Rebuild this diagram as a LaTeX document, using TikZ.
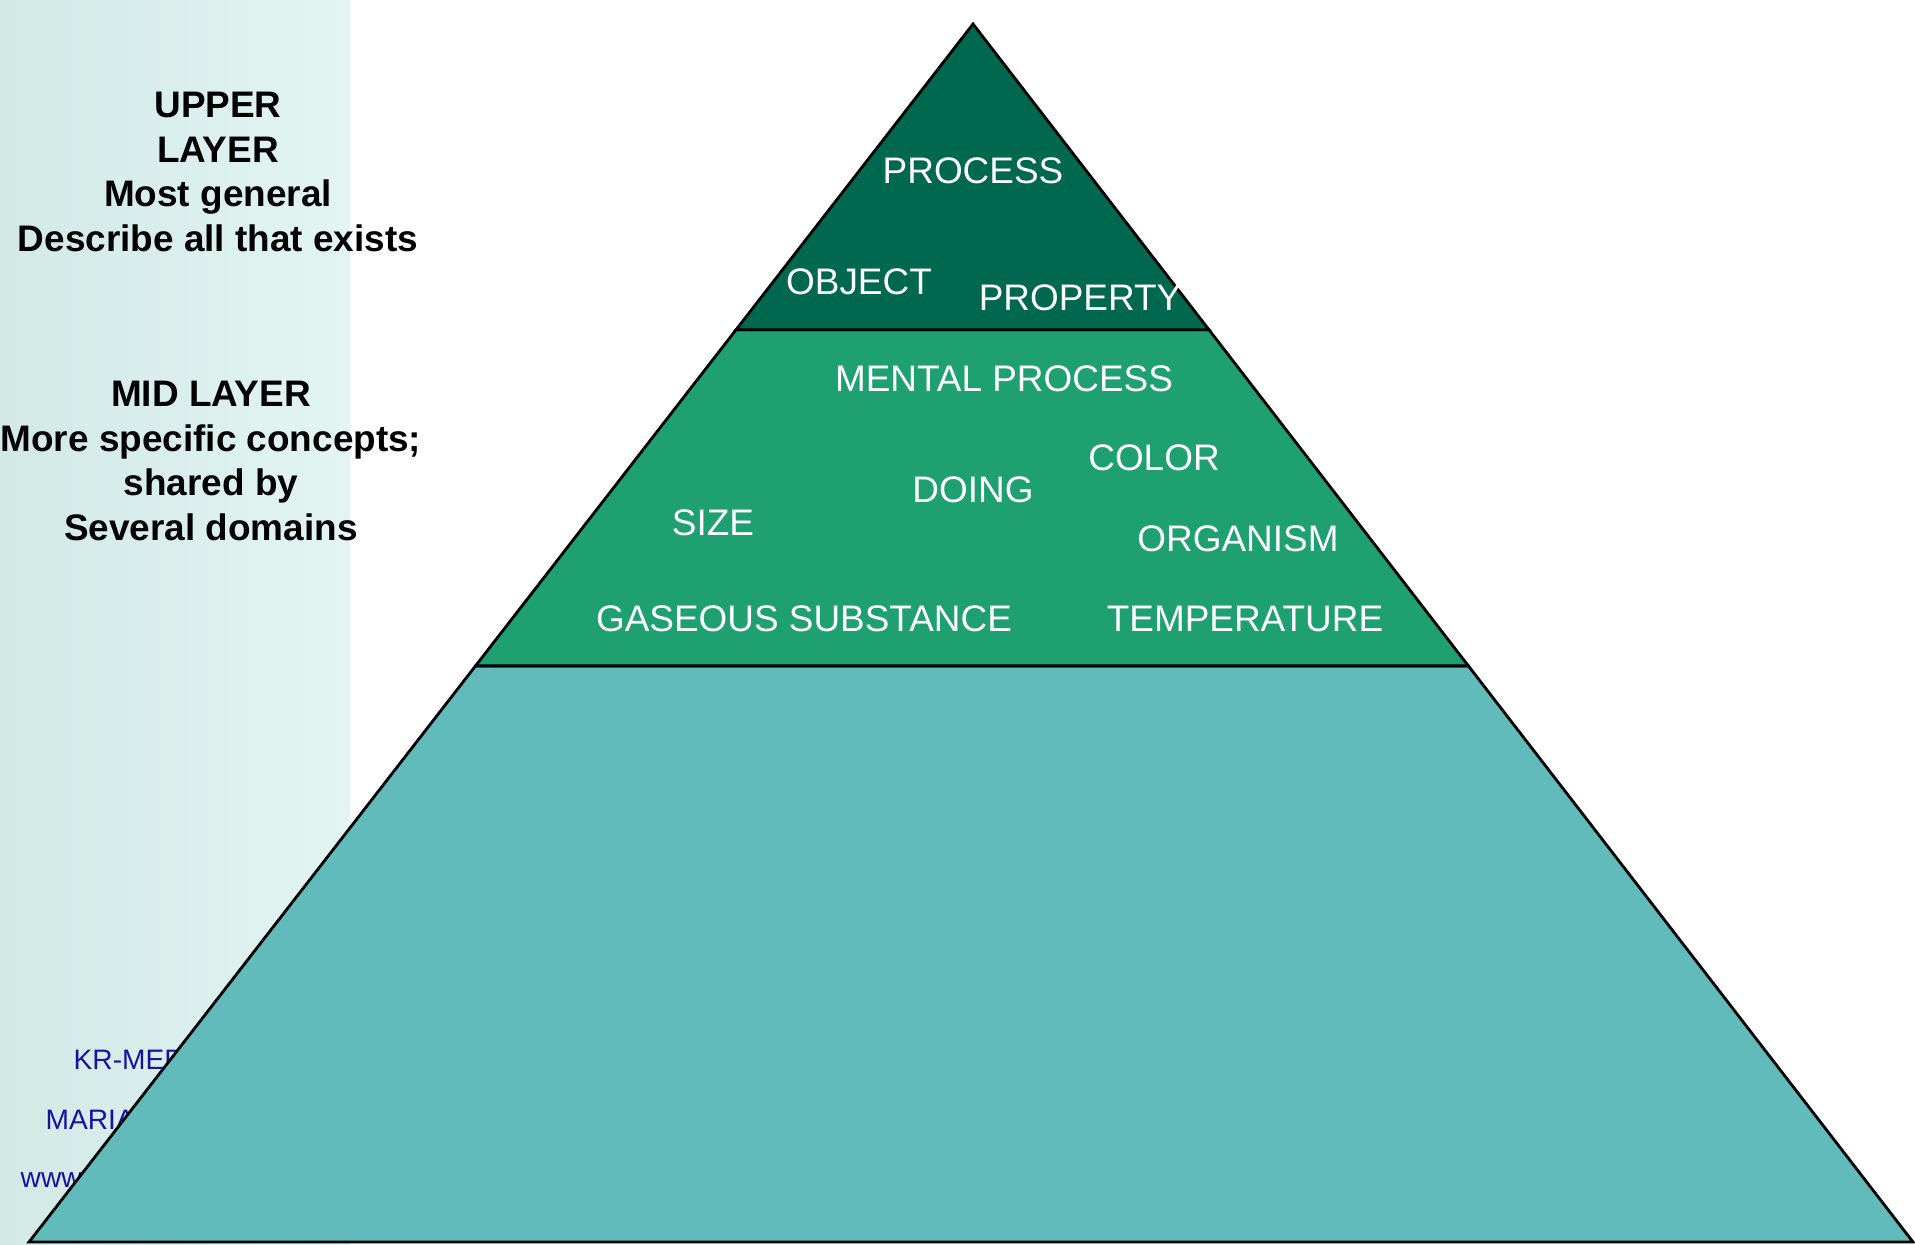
\documentclass[tikz,border=0pt]{standalone}
\usepackage{fontspec}
\setmainfont{Liberation Sans}
\usetikzlibrary{positioning,calc}
\definecolor{topgreen}{RGB}{0,104,78}
\definecolor{midgreen}{RGB}{30,160,113}
\definecolor{lowteal}{RGB}{97,187,186}
\definecolor{stripL}{RGB}{210,233,230}
\definecolor{stripR}{RGB}{226,245,243}
\definecolor{footblue}{RGB}{20,20,160}

\begin{document}
\begin{tikzpicture}[x=0.01cm,y=-0.01cm]
    \tikzstyle{every node} = [font=\fontsize{10.5}{12.7}\selectfont, inner sep=0pt]
    \tikzstyle{concept} = [text=white]
    \tikzstyle{layertext} = [font=\fontsize{10.5}{12.7}\selectfont\bfseries, align=center]
    \tikzstyle{foot} = [text=footblue, font=\fontsize{8}{9}\selectfont, anchor=west]
    \tikzstyle{layer} = [draw=black, line width=0.8pt]
    \useasboundingbox (0,0) rectangle (1915,1244);

    % side strip
    \shade[left color=stripL, right color=stripR] (0,0) rectangle (350,1244);
    \node[layertext](upperText) at (218,172){UPPER\\LAYER\\Most general\\Describe all that exists};
    \node[layertext](midText) at (211,461){MID LAYER\\More specific concepts;\\shared by\\Several domains};
    \node[foot](krMed) at (73,1060){KR-MED};
    \node[foot](maria) at (45,1120){MARIA};
    \node[foot](www) at (20,1180){www};

    % pyramid
    \coordinate (apex) at (973,24);
    \coordinate (baseL) at (29,1242);
    \coordinate (baseR) at (1913,1242);
    \filldraw[layer,fill=lowteal]
    ($(apex)!0.527!(baseL)$)--(baseL)--(baseR)--($(apex)!0.527!(baseR)$)--cycle;
    \filldraw[layer,fill=midgreen]
    ($(apex)!0.251!(baseL)$)--($(apex)!0.527!(baseL)$)--($(apex)!0.527!(baseR)$)--($(apex)!0.251!(baseR)$)--cycle;
    \filldraw[layer,fill=topgreen]
    (apex)--($(apex)!0.251!(baseL)$)--($(apex)!0.251!(baseR)$)--cycle;

    % place nodes
    \node[concept](process) at (973,171){PROCESS};
    \node[concept](object) at (859,282){OBJECT};
    \node[concept](property) at (1080,298){PROPERTY};
    \node[concept](mentalProcess) at (1004,379){MENTAL PROCESS};
    \node[concept](color) at (1154,458){COLOR};
    \node[concept](doing) at (973,490){DOING};
    \node[concept](size) at (713,523){SIZE};
    \node[concept](organism) at (1238,539){ORGANISM};
    \node[concept](gaseous) at (804,619){GASEOUS SUBSTANCE};
    \node[concept](temperature) at (1245,619){TEMPERATURE};
\end{tikzpicture}
\end{document}
